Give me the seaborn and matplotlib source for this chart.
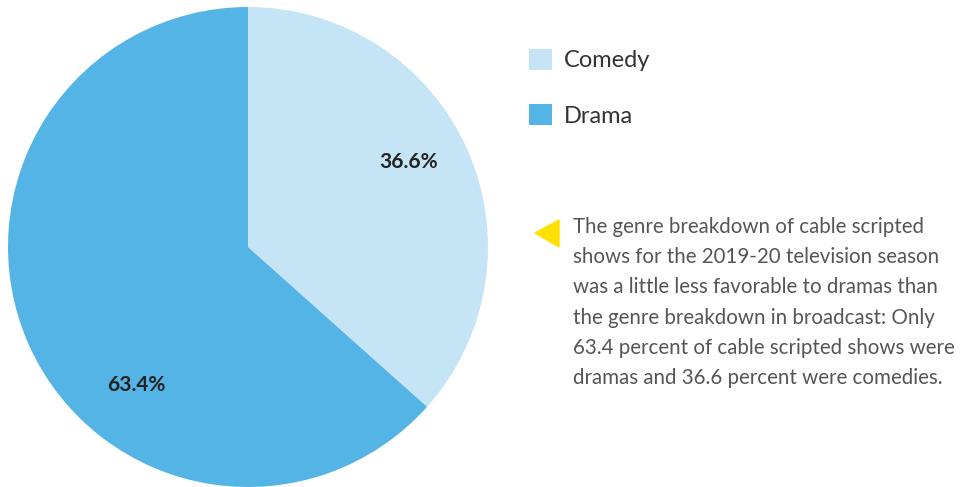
import numpy as np
import matplotlib.pyplot as plt
import seaborn as sns

genres = ['Comedy', 'Drama']
shares = [36.6, 63.4]
colors = ['#c5e5f6', '#55b4e6']
note = ("The genre breakdown of cable scripted\n"
        "shows for the 2019-20 television season\n"
        "was a little less favorable to dramas than\n"
        "the genre breakdown in broadcast: Only\n"
        "63.4 percent of cable scripted shows were\n"
        "dramas and 36.6 percent were comedies.")

sns.set_theme(style='white')
plt.rcParams['font.family'] = ['Lato', 'DejaVu Sans']

fig = plt.figure(figsize=(9.61, 4.87), dpi=100)
ax = fig.add_axes([8 / 961, 0, 480 / 961, 480 / 487])

wedges, texts, autotexts = ax.pie(
    shares, colors=colors, startangle=90, counterclock=False,
    autopct='%.1f%%', pctdistance=0.75, wedgeprops={'linewidth': 0},
    textprops={'fontsize': 15, 'fontweight': 'bold', 'color': '#222222'},
)
# nudge the labels where the original has them
autotexts[0].set_position((0.667, 0.354))
autotexts[1].set_position((-0.467, -0.575))
ax.set_aspect('equal')
ax.set_xlim(-1, 1)
ax.set_ylim(-1, 1)

fig.legend(wedges, genres, loc='upper left', bbox_to_anchor=(529 / 961, 1 - 49 / 487),
           frameon=False, fontsize=17, handlelength=0.97, handleheight=0.97,
           handletextpad=0.5, labelspacing=1.4, borderpad=0, borderaxespad=0,
           labelcolor='#333333')

# yellow pointer + note
fig.patches.append(plt.Polygon([[535 / 961, 1 - 233 / 487], [559 / 961, 1 - 220 / 487],
                                [559 / 961, 1 - 247 / 487]], closed=True,
                               transform=fig.transFigure, color='#ffe000'))
fig.text(573 / 961, 1 - 217 / 487, note, fontsize=14.8, color='#555555',
         va='top', ha='left', linespacing=1.64)

fig.savefig('out.png', dpi=100)
